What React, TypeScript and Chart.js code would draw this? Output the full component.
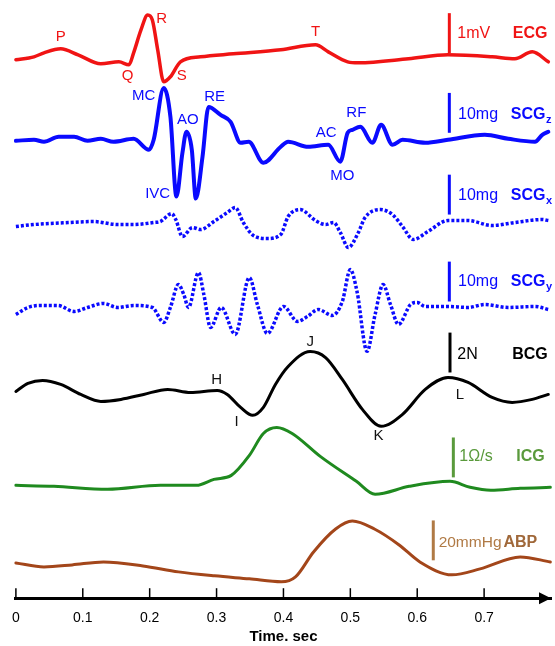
import React, { useEffect, useRef } from 'react';
import { Chart, registerables } from 'chart.js';
Chart.register(...registerables);

// ---------- axis ----------
const xTickValues = [0, 0.1, 0.2, 0.3, 0.4, 0.5, 0.6, 0.7];
const xTickLabels = ['0', '0.1', '0.2', '0.3', '0.4', '0.5', '0.6', '0.7'];

// ---------- ECG (mV) ----------
const ecgTime = [0, 0.027, 0.042, 0.067, 0.093, 0.127, 0.154, 0.169, 0.176, 0.187, 0.197, 0.204, 0.212, 0.221, 0.231, 0.246, 0.276, 0.325, 0.396, 0.448, 0.467, 0.496, 0.512, 0.587, 0.646, 0.712, 0.746, 0.772, 0.796];
const ecgMv = [0, 0.075, 0.175, 0.275, 0.125, -0.1, -0.05, -0.125, 0.175, 0.75, 1.125, 1.0, 0.25, -0.55, -0.425, -0.05, 0.075, 0.15, 0.25, 0.375, 0.2, -0.05, -0.075, 0.025, 0.125, 0.075, 0.025, 0.2, -0.05];

// ---------- SCGz (mg) ----------
const scgzTime = [0, 0.027, 0.042, 0.064, 0.087, 0.107, 0.127, 0.146, 0.176, 0.199, 0.206, 0.221, 0.231, 0.240, 0.249, 0.255, 0.263, 0.269, 0.279, 0.288, 0.306, 0.321, 0.336, 0.348, 0.370, 0.396, 0.407, 0.437, 0.467, 0.485, 0.496, 0.503, 0.515, 0.533, 0.546, 0.563, 0.578, 0.612, 0.646, 0.701, 0.736, 0.776, 0.787, 0.796];
const scgzMg = [0, 0.25, -0.25, 1, 1, 0, 0.5, -0.25, 0.5, -2.25, 0.25, 13.25, 6, -14, -3, 2.25, -2.25, -14.5, -4, 8.5, 6.5, 4.75, -0.5, -0.25, -5.5, -1.5, -0.25, -1.5, -1, -5.25, 2, 2.75, 3.5, -0.5, 4, -1, 0.25, -0.5, 0.25, 1.5, 0.5, -0.25, 1.5, 2.25];

// ---------- SCGx (mg) ----------
const scgxTime = [0, 0.027, 0.078, 0.116, 0.152, 0.176, 0.206, 0.216, 0.233, 0.239, 0.249, 0.264, 0.276, 0.296, 0.316, 0.328, 0.340, 0.355, 0.376, 0.396, 0.407, 0.425, 0.448, 0.463, 0.475, 0.485, 0.497, 0.512, 0.522, 0.545, 0.563, 0.578, 0.594, 0.616, 0.646, 0.676, 0.712, 0.746, 0.787, 0.796];
const scgxMg = [-0.5, 0, 0.5, 0.75, 0, 0, 0.5, 0.75, 2.75, 1.25, -3, -0.75, -1.25, 0.75, 3, 4.25, 0.5, -2.75, -3.5, -2.5, 2, 3.75, 1, 0, 0.5, -2, -5.75, -2, 1.75, 3.75, 2.5, -0.5, -3.75, -1.75, 1, 1, -0.25, 0.5, 1.25, 1];

// ---------- SCGy (mg) ----------
const scgyTime = [0, 0.018, 0.037, 0.063, 0.087, 0.107, 0.131, 0.152, 0.176, 0.204, 0.221, 0.231, 0.243, 0.251, 0.258, 0.273, 0.281, 0.291, 0.307, 0.328, 0.349, 0.361, 0.376, 0.400, 0.421, 0.436, 0.452, 0.473, 0.488, 0.500, 0.510, 0.525, 0.537, 0.549, 0.560, 0.572, 0.590, 0.600, 0.612, 0.646, 0.676, 0.701, 0.736, 0.776, 0.796];
const scgyMg = [-1.75, 0, 0.5, 0.5, -1, 0, 1, 0, 0.5, 0, -3.75, 0, 5.75, 3.25, 0, 8.75, 3.25, -5, 0, -6.75, 7.5, 0.75, -6.5, 0.25, -3.5, -2.25, -0.5, -2, 1.5, 9.5, 4, -11, -1.75, 5.75, 0.75, -4.25, 0.75, 1.25, 0.25, 0.25, 0, 0.75, 0, 0.25, -0.5];

// ---------- BCG (N) ----------
const bcgTime = [0, 0.018, 0.040, 0.067, 0.097, 0.127, 0.157, 0.191, 0.227, 0.261, 0.301, 0.316, 0.336, 0.354, 0.370, 0.388, 0.407, 0.440, 0.463, 0.488, 0.518, 0.546, 0.578, 0.612, 0.646, 0.676, 0.712, 0.742, 0.772, 0.796];
const bcgN = [0.15, 0.55, 0.7, 0.5, 0, -0.35, -0.25, 0, 0.25, 0.1, 0.2, 0, -0.65, -1.05, -0.65, 0.5, 1.4, 2.15, 1.85, 0.75, -0.75, -1.6, -1.0, 0.25, 0.85, 0.6, -0.15, -0.4, -0.25, 0];

// ---------- ICG (Ohm/s) ----------
const icgTime = [0, 0.057, 0.137, 0.216, 0.270, 0.296, 0.322, 0.349, 0.370, 0.390, 0.413, 0.455, 0.509, 0.537, 0.588, 0.649, 0.679, 0.710, 0.754, 0.799];
const icgOhmPerS = [0, -0.025, -0.1, 0, 0, 0.15, 0.25, 0.75, 1.3, 1.45, 1.3, 0.725, 0.1, -0.225, -0.025, 0.1, -0.05, -0.125, -0.075, -0.05];

// ---------- ABP (mmHg) ----------
const abpTime = [0, 0.042, 0.084, 0.131, 0.190, 0.243, 0.297, 0.349, 0.397, 0.418, 0.445, 0.478, 0.503, 0.536, 0.573, 0.604, 0.652, 0.694, 0.754, 0.799];
const abpMmHg = [89.5, 87.5, 88.5, 90, 88, 85, 83, 81.5, 80, 82.5, 95, 106.5, 110.5, 106.5, 98.5, 90, 83.5, 86.5, 92.5, 90];

// ---------- layout / style ----------
const FONT = '"Liberation Sans", Arial, Helvetica, sans-serif';
const RED = '#f01414';
const BLUE = '#0a0aff';
const BLACK = '#000000';
const GREEN_LINE = '#1f8a1f';
const GREEN_TEXT = '#5a9a3c';
const BROWN_LINE = '#a3461a';
const BROWN_TEXT = '#b07a45';

const traces = [
  { time: ecgTime, values: ecgMv, offset: 13.5, gain: 1, color: RED, width: 3.5, dash: [] as number[] },
  { time: scgzTime, values: scgzMg, offset: 11.47, gain: 0.1, color: BLUE, width: 4, dash: [] as number[] },
  { time: scgxTime, values: scgxMg, offset: 9.37, gain: 0.1, color: BLUE, width: 3.5, dash: [3, 2] },
  { time: scgyTime, values: scgyMg, offset: 7.29, gain: 0.1, color: BLUE, width: 3.5, dash: [3, 2] },
  { time: bcgTime, values: bcgN, offset: 5.11, gain: 0.5, color: BLACK, width: 3, dash: [] as number[] },
  { time: icgTime, values: icgOhmPerS, offset: 2.83, gain: 1, color: GREEN_LINE, width: 3, dash: [] as number[] },
  { time: abpTime, values: abpMmHg, offset: -3.59, gain: 0.05, color: BROWN_LINE, width: 3, dash: [] as number[] },
];

// scale bars: x (sec), bottom (axis units), height = 1 unit
const scaleBars = [
  { t: 0.648, bottom: 13.67, color: RED },
  { t: 0.648, bottom: 11.67, color: BLUE },
  { t: 0.648, bottom: 9.62, color: BLUE },
  { t: 0.648, bottom: 7.44, color: BLUE },
  { t: 0.649, bottom: 5.66, color: BLACK },
  { t: 0.654, bottom: 3.03, color: GREEN_TEXT },
  { t: 0.624, bottom: 0.95, color: BROWN_TEXT },
];

// annotation letters (centered)
const pointLabels = [
  { text: 'P', t: 0.067, v: 14.07, color: RED },
  { text: 'Q', t: 0.167, v: 13.1, color: RED },
  { text: 'R', t: 0.218, v: 14.53, color: RED },
  { text: 'S', t: 0.248, v: 13.1, color: RED },
  { text: 'T', t: 0.448, v: 14.2, color: RED },
  { text: 'MC', t: 0.191, v: 12.6, color: BLUE },
  { text: 'AO', t: 0.257, v: 12.0, color: BLUE },
  { text: 'RE', t: 0.297, v: 12.57, color: BLUE },
  { text: 'IVC', t: 0.212, v: 10.14, color: BLUE },
  { text: 'AC', t: 0.464, v: 11.67, color: BLUE },
  { text: 'RF', t: 0.509, v: 12.17, color: BLUE },
  { text: 'MO', t: 0.488, v: 10.59, color: BLUE },
  { text: 'H', t: 0.3, v: 5.48, color: '#111' },
  { text: 'I', t: 0.33, v: 4.43, color: '#111' },
  { text: 'J', t: 0.44, v: 6.44, color: '#111' },
  { text: 'K', t: 0.542, v: 4.06, color: '#111' },
  { text: 'L', t: 0.664, v: 5.11, color: '#111' },
];

// right side labels (left aligned): unit text + bold name (+ optional subscript)
const sideLabels = [
  { unit: '1mV', usize: 16, ut: 0.66, name: 'ECG', sub: '', nt: 0.743, v: 14.17, ucolor: RED, ncolor: RED },
  { unit: '10mg', usize: 16, ut: 0.661, name: 'SCG', sub: 'z', nt: 0.74, v: 12.12, ucolor: BLUE, ncolor: BLUE },
  { unit: '10mg', usize: 16, ut: 0.661, name: 'SCG', sub: 'x', nt: 0.74, v: 10.09, ucolor: BLUE, ncolor: BLUE },
  { unit: '10mg', usize: 16, ut: 0.661, name: 'SCG', sub: 'y', nt: 0.74, v: 7.94, ucolor: BLUE, ncolor: BLUE },
  { unit: '2N', usize: 16, ut: 0.66, name: 'BCG', sub: '', nt: 0.742, v: 6.11, ucolor: BLACK, ncolor: BLACK },
  { unit: '1\u03A9/s', usize: 16, ut: 0.663, name: 'ICG', sub: '', nt: 0.748, v: 3.56, ucolor: GREEN_TEXT, ncolor: GREEN_TEXT },
  { unit: '20mmHg', usize: 15.5, ut: 0.632, name: 'ABP', sub: '', nt: 0.729, v: 1.4, ucolor: BROWN_TEXT, ncolor: '#a0683a' },
];

const annotationPlugin = {
  id: 'annotations',
  afterDraw(chart: any) {
    const { ctx, scales } = chart;
    const xs = scales.x;
    const ys = scales.y;
    ctx.save();
    // axis ticks (upward) + arrow
    const axisY = xs.top;
    ctx.strokeStyle = '#000';
    ctx.lineWidth = 1.5;
    xTickValues.forEach((v) => {
      const px = xs.getPixelForValue(v);
      ctx.beginPath();
      ctx.moveTo(px, axisY);
      ctx.lineTo(px, axisY - 10);
      ctx.stroke();
    });
    const tip = xs.right;
    ctx.fillStyle = '#000';
    ctx.beginPath();
    ctx.moveTo(tip, axisY);
    ctx.lineTo(tip - 12, axisY - 6);
    ctx.lineTo(tip - 12, axisY + 6);
    ctx.closePath();
    ctx.fill();

    // point labels
    ctx.textAlign = 'center';
    ctx.textBaseline = 'middle';
    ctx.font = `15px ${FONT}`;
    pointLabels.forEach((l) => {
      ctx.fillStyle = l.color;
      ctx.fillText(l.text, xs.getPixelForValue(l.t), ys.getPixelForValue(l.v));
    });

    // side labels
    ctx.textAlign = 'left';
    sideLabels.forEach((l) => {
      const py = ys.getPixelForValue(l.v);
      ctx.font = `${l.usize}px ${FONT}`;
      ctx.fillStyle = l.ucolor;
      ctx.fillText(l.unit, xs.getPixelForValue(l.ut), py);
      ctx.font = `bold 16px ${FONT}`;
      ctx.fillStyle = l.ncolor;
      const nx = xs.getPixelForValue(l.nt);
      ctx.fillText(l.name, nx, py);
      if (l.sub) {
        const w = ctx.measureText(l.name).width;
        ctx.font = `bold 11px ${FONT}`;
        ctx.fillText(l.sub, nx + w + 0.5, py + 5);
      }
    });
    ctx.restore();
  },
};

export default function App() {
  const canvasRef = useRef<HTMLCanvasElement | null>(null);

  useEffect(() => {
    if (!canvasRef.current) return;
    const datasets: any[] = traces.map((tr) => ({
      data: tr.time.map((t, i) => ({ x: t, y: tr.offset + tr.gain * tr.values[i] })),
      borderColor: tr.color,
      borderWidth: tr.width,
      borderDash: tr.dash,
      borderCapStyle: tr.dash.length ? 'butt' : 'round',
      borderJoinStyle: 'round',
      pointRadius: 0,
      fill: false,
      cubicInterpolationMode: 'monotone',
      clip: false,
    }));
    scaleBars.forEach((b) => {
      datasets.push({
        data: [
          { x: b.t, y: b.bottom },
          { x: b.t, y: b.bottom + 1 },
        ],
        borderColor: b.color,
        borderWidth: 3,
        pointRadius: 0,
        fill: false,
        clip: false,
      });
    });

    const chart = new Chart(canvasRef.current, {
      type: 'line',
      data: { datasets },
      options: {
        animation: false,
        responsive: false,
        events: [],
        layout: { padding: { left: 15, right: 4, top: 0, bottom: 0 } },
        plugins: { legend: { display: false }, tooltip: { enabled: false }, title: { display: false } },
        scales: {
          x: {
            type: 'linear',
            min: 0,
            max: 0.8,
            afterBuildTicks: (scale: any) => {
              scale.ticks = xTickValues.map((v) => ({ value: v }));
            },
            ticks: {
              autoSkip: false,
              maxRotation: 0,
              padding: 12,
              color: '#000',
              font: { family: FONT, size: 14 },
              callback: (value: any) => {
                const i = xTickValues.findIndex((v) => Math.abs(v - Number(value)) < 1e-9);
                return i >= 0 ? xTickLabels[i] : '';
              },
            },
            grid: { display: true, drawOnChartArea: false, drawTicks: false },
            border: { display: true, color: '#000', width: 3 },
            title: {
              display: true,
              text: 'Time. sec',
              color: '#000',
              font: { family: FONT, size: 15, weight: 'bold' },
              padding: { top: -11, bottom: 0 },
            },
          },
          y: { type: 'linear', min: 0, max: 15, display: false },
        },
      },
      plugins: [annotationPlugin],
    } as any);
    return () => chart.destroy();
  }, []);

  return (
    <div style={{ position: 'fixed', left: 0, top: 0, width: 555, height: 646, background: '#fff' }}>
      <canvas ref={canvasRef} width={555} height={646} style={{ width: 555, height: 646, display: 'block' }} />
    </div>
  );
}
